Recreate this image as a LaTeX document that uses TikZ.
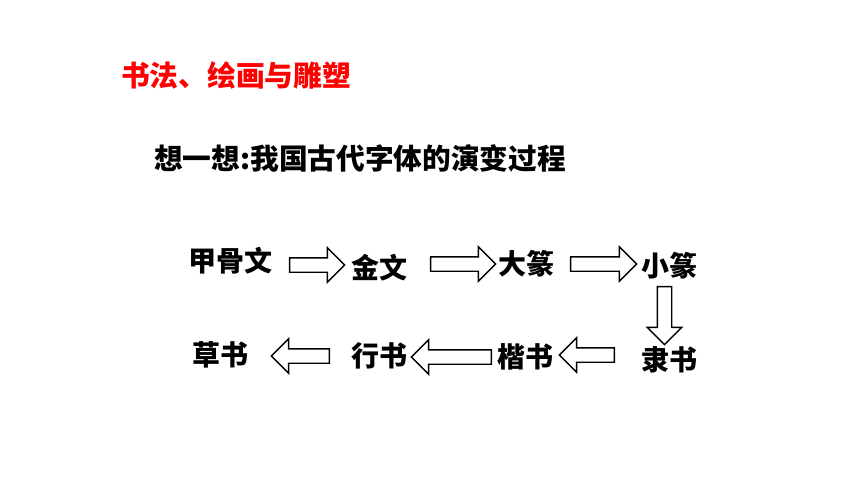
\documentclass[tikz,border=0pt]{standalone}
\usepackage{fontspec}
\setmainfont{Noto Sans CJK SC}
\usetikzlibrary{shapes.arrows}
\tikzset{
	zi/.style={font=\bfseries\fontsize{28}{30}\selectfont, inner sep=0pt},
	jt/.style={draw, line width=1.4pt, fill=white, single arrow, single arrow head extend=10pt, single arrow tip angle=90, inner xsep=0pt, inner ysep=6.5pt},
}
\begin{document}
\begin{tikzpicture}[x=1pt,y=-1pt]
			\useasboundingbox (0,0) rectangle (860,484);
			\node[anchor=west, inner sep=0pt, text=red, font=\bfseries\fontsize{28.7}{32}\selectfont] (biaoti) at (121,75) {书法、绘画与雕塑};
			\node[anchor=west, inner sep=0pt, font=\bfseries\fontsize{28.7}{32}\selectfont] (wenti) at (154,158) {想一想:我国古代字体的演变过程};
			\node[zi] (jgw) at (230.5,261) {甲骨文};
			\node[zi] (jw) at (379.5,268) {金文};
			\node[zi] (dz) at (526,264) {大篆};
			\node[zi] (xz) at (669,266) {小篆};
			\node[zi] (ls) at (669,360) {隶书};
			\node[zi] (ks) at (525,357) {楷书};
			\node[zi] (xs) at (379.5,356) {行书};
			\node[zi] (cs) at (220.5,355) {草书};
			\node[jt, minimum height=55pt] (j1) at (313.5,265) {};
			\node[jt, minimum height=65pt] (j2) at (459.5,264) {};
			\node[jt, minimum height=66pt] (j3) at (600,264) {};
			\node[jt, minimum height=58pt, rotate=-90] (j4) at (664.5,312) {};
			\node[jt, minimum height=55pt, rotate=180] (j5) at (590.5,355) {};
			\node[jt, minimum height=80pt, rotate=180] (j6) at (455,357) {};
			\node[jt, minimum height=58pt, rotate=180] (j7) at (304,356) {};
\end{tikzpicture}
\end{document}
